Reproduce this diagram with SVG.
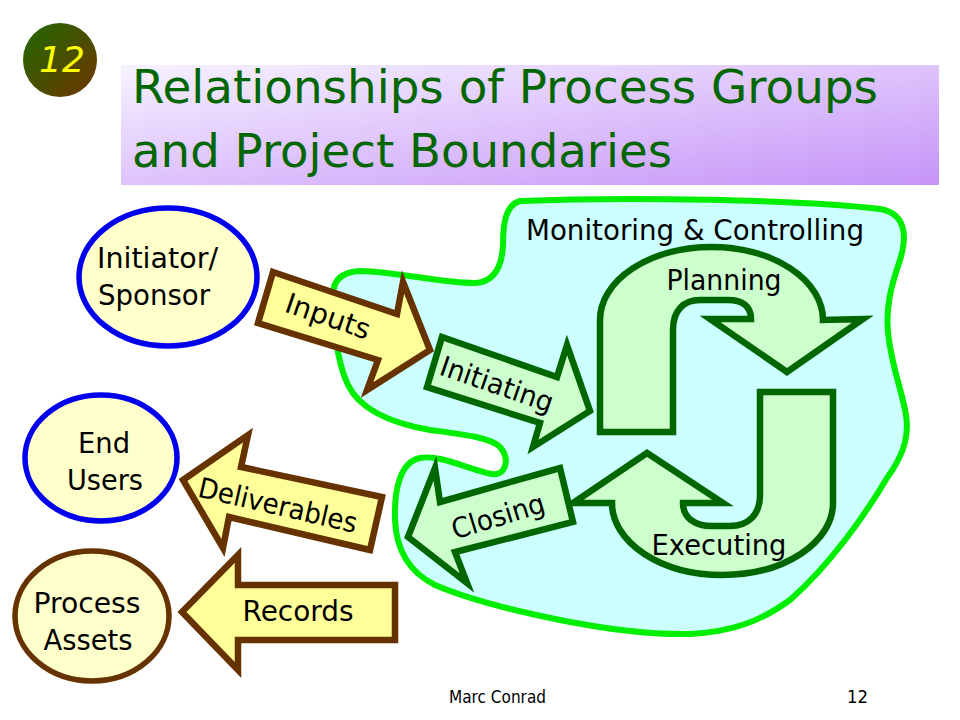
<svg xmlns="http://www.w3.org/2000/svg" width="960" height="720" viewBox="0 0 960 720">
<defs>
<linearGradient id="gBadge" x1="0" y1="0" x2="1" y2="1">
<stop offset="0" stop-color="#1f6a00"/>
<stop offset="1" stop-color="#703400"/>
</linearGradient>
<linearGradient id="gTitle" x1="0" y1="0" x2="1" y2="1">
<stop offset="0" stop-color="#f6f2ff"/>
<stop offset="1" stop-color="#c694f8"/>
</linearGradient>
<style>
.lbl{font-family:"DejaVu Sans",Verdana,sans-serif;font-size:28px;fill:#000}
.ttl{font-family:"DejaVu Sans",Verdana,sans-serif;font-size:47px;fill:#006600}
.ft{font-family:"DejaVu Sans",Verdana,sans-serif;font-size:18px;fill:#000}
.eb{fill:#ffffcc;stroke:#0000ee;stroke-width:5.5}
.ebr{fill:#ffffcc;stroke:#663300;stroke-width:5.5}
.ba{fill:#ffff99;stroke:#663300;stroke-width:6.5}
.ga{fill:#ccffcc;stroke:#006600;stroke-width:6.5}
</style>
</defs>
<rect width="960" height="720" fill="#fff"/>

<g id="badge">
<circle cx="60" cy="60" r="37" fill="url(#gBadge)"/>
<text x="62" y="72" text-anchor="middle" font-family="DejaVu Sans,Verdana,sans-serif" font-style="italic" font-size="36" fill="#ffff00">12</text>
</g>

<g id="title">
<rect x="121" y="65" width="818" height="120" fill="url(#gTitle)"/>
<text class="ttl" x="132" y="103" textLength="746" lengthAdjust="spacingAndGlyphs">Relationships of Process Groups</text>
<text class="ttl" x="132" y="167" textLength="540" lengthAdjust="spacingAndGlyphs">and Project Boundaries</text>
</g>

<g id="boundary">
<path d="M 520 201 C 620 197, 800 199, 880 209 C 905 213, 908 235, 900 260 C 892 283, 884 310, 889 340 C 893 370, 903 395, 906 415 C 910 440, 900 460, 887 478 C 865 515, 830 565, 790 600 C 760 622, 730 632, 690 634 C 650 635, 600 628, 560 620 C 520 612, 470 600, 435 585 C 405 570, 396 545, 395 520 C 394 490, 400 462, 420 458 C 440 454, 470 470, 492 474 C 505 476, 511 460, 500 447 C 490 437, 460 434, 430 430 C 390 423, 360 410, 348 385 C 336 360, 333 320, 333 295 C 333 280, 342 272, 360 271 C 400 272, 440 283, 475 283 C 495 282, 502 265, 503 245 C 503 225, 505 205, 520 201 Z" fill="#ccffff" stroke="#00ee00" stroke-width="6"/>
<text class="lbl" x="526" y="240" textLength="338" lengthAdjust="spacingAndGlyphs">Monitoring &amp; Controlling</text>
</g>

<g id="planning">
<path class="ga" d="M 600 432 L 600 320 A 111.5 73 0 0 1 823 320 L 863 319 L 787 372 L 710 319 L 751 319 C 751 306, 742 300, 728 300 L 700 300 C 684 300, 673 310, 673 330 L 673 432 Z"/>
<text class="lbl" x="724" y="290" text-anchor="middle" textLength="115" lengthAdjust="spacingAndGlyphs">Planning</text>
</g>

<g id="executing">
<path class="ga" d="M 760 392 L 833 392 L 833 503 A 110.5 72 0 0 1 612 503 L 573 503 L 647 453 L 723 503 L 683 503 C 683 518, 695 526, 712 526 L 730 526 C 748 526, 760 515, 760 495 Z"/>
<text class="lbl" x="719" y="555" text-anchor="middle" textLength="135" lengthAdjust="spacingAndGlyphs">Executing</text>
</g>

<g id="initiating">
<path class="ga" d="M 442 337 L 557 377 L 567 345 L 590 411 L 533 447 L 540 423 L 427 387 Z"/>
<text class="lbl" transform="translate(497,384) rotate(19)" text-anchor="middle" y="10" textLength="118" lengthAdjust="spacingAndGlyphs">Initiating</text>
</g>

<g id="closing">
<path class="ga" d="M 408 537 L 435 468 L 440 502 L 560 468 L 573 522 L 455 552 L 467 583 Z"/>
<text class="lbl" transform="translate(498,516) rotate(-17)" text-anchor="middle" y="10" textLength="96" lengthAdjust="spacingAndGlyphs">Closing</text>
</g>

<g id="initiator">
<ellipse class="eb" cx="168" cy="277" rx="89" ry="69"/>
<text class="lbl" x="97" y="268" textLength="121" lengthAdjust="spacingAndGlyphs">Initiator/</text>
<text class="lbl" x="98" y="305" textLength="112" lengthAdjust="spacingAndGlyphs">Sponsor</text>
</g>

<g id="endusers">
<ellipse class="eb" cx="101" cy="458" rx="76" ry="63"/>
<text class="lbl" x="104" y="453" text-anchor="middle" textLength="52" lengthAdjust="spacingAndGlyphs">End</text>
<text class="lbl" x="105" y="490" text-anchor="middle" textLength="76" lengthAdjust="spacingAndGlyphs">Users</text>
</g>

<g id="processassets">
<ellipse class="ebr" cx="92" cy="616" rx="77" ry="65"/>
<text class="lbl" x="87" y="613" text-anchor="middle" textLength="107" lengthAdjust="spacingAndGlyphs">Process</text>
<text class="lbl" x="88" y="650" text-anchor="middle" textLength="89" lengthAdjust="spacingAndGlyphs">Assets</text>
</g>

<g id="connectors">
<g id="inputs">
<path class="ba" d="M 273 272 L 397 314 L 403 282 L 430 350 L 367 390 L 378 360 L 258 323 Z"/>
<text class="lbl" transform="translate(328,316) rotate(19)" text-anchor="middle" y="10" textLength="88" lengthAdjust="spacingAndGlyphs">Inputs</text>
</g>
<g id="deliverables">
<path class="ba" d="M 183 480 L 248 435 L 241 467 L 382 497 L 370 550 L 229 517 L 223 548 Z"/>
<text class="lbl" transform="translate(278,505) rotate(13)" text-anchor="middle" y="10" textLength="162" lengthAdjust="spacingAndGlyphs">Deliverables</text>
</g>
<g id="records">
<path class="ba" d="M 182 612 L 238 555 L 238 585 L 395 585 L 395 640 L 238 640 L 238 670 Z"/>
<text class="lbl" x="298" y="621" text-anchor="middle" textLength="111" lengthAdjust="spacingAndGlyphs">Records</text>
</g>
</g>

<g id="footer">
<text class="ft" x="449" y="703" textLength="97" lengthAdjust="spacingAndGlyphs">Marc Conrad</text>
<text class="ft" x="847" y="703" textLength="21" lengthAdjust="spacingAndGlyphs">12</text>
</g>
</svg>
